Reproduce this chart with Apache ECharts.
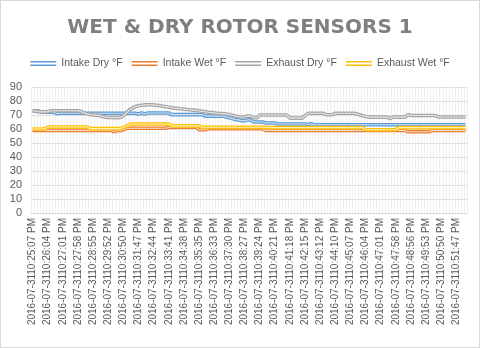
<!DOCTYPE html>
<html>
<head>
<meta charset="utf-8">
<script src="https://cdn.jsdelivr.net/npm/echarts@6/dist/echarts.min.js"></script>
<style>
html,body{margin:0;padding:0;background:#fff;}
#c{width:478px;height:346px;border:1px solid #d9d9d9;}
</style>
</head>
<body>
<div id="c"></div>
<script>
// Tick labels shown on the category axis (one every 5 samples)
const tickLabels = [
"2016-07-3110:25:07 PM","2016-07-3110:26:04 PM","2016-07-3110:27:01 PM","2016-07-3110:27:58 PM",
"2016-07-3110:28:55 PM","2016-07-3110:29:52 PM","2016-07-3110:30:50 PM","2016-07-3110:31:47 PM",
"2016-07-3110:32:44 PM","2016-07-3110:33:41 PM","2016-07-3110:34:38 PM","2016-07-3110:35:35 PM",
"2016-07-3110:36:33 PM","2016-07-3110:37:30 PM","2016-07-3110:38:27 PM","2016-07-3110:39:24 PM",
"2016-07-3110:40:21 PM","2016-07-3110:41:18 PM","2016-07-3110:42:15 PM","2016-07-3110:43:12 PM",
"2016-07-3110:44:10 PM","2016-07-3110:45:07 PM","2016-07-3110:46:04 PM","2016-07-3110:47:01 PM",
"2016-07-3110:47:58 PM","2016-07-3110:48:56 PM","2016-07-3110:49:53 PM","2016-07-3110:50:50 PM",
"2016-07-3110:51:47 PM"
];
const seriesNames = ["Intake Dry °F","Intake Wet °F","Exhaust Dry °F","Exhaust Wet °F"];
const seriesColors = ["#5B9BD5","#ED7D31","#A5A5A5","#FFC000"];

const intakeDry = [
73,72.9,72.8,72,72,72,72,72,71,71.2,
71.2,71.2,71.2,71.2,71.2,71.2,71.2,71.2,71.2,71.2,
71.2,71.2,71.2,71.2,71.2,71.2,71.2,71.2,71.2,71.2,
71.2,71.2,71.2,71.2,71.2,70.6,71.6,70.6,71.4,71.4,
71.4,71.4,71.4,71.4,71.4,71.4,70.3,70.3,70.3,70.3,
70.3,70.3,70.3,70.3,70.3,70.3,70.3,69.2,69.2,69.2,
69.2,69.2,69.2,69.2,68.6,68,67.4,66.8,66.5,66,
65.8,66.5,66.5,65,65,65,65,64.3,64.3,64.3,
64.3,63.6,63.6,63.6,63.6,63.6,63.6,63.6,63.6,63.6,
63.6,63.2,63.8,63,63,63,63,63,63,63,
63,63,63,63,63,63,63,63,63,63,
63,63,63,63,63,63,63,63,63,63,
63,63,63,63,63,63,63,63,63,63,
63,63,63,63,63,63,63,63,63,63,
63,63,63,63
];
const intakeWet = [
59,59,59,59,59,59,59,59,59,59,
59,59,59,59,59,59,59,59,59,59,
59,59,59,59,59,59,59,58,58.8,59,
59.5,60.5,60.5,60.5,60.5,60.5,60.5,60.5,60.5,60.5,
60.5,60.5,60.5,60.5,60.5,61.3,61.3,61.3,61.3,61.3,
61.3,61.3,61.3,61.3,61.3,59.5,59.5,59.5,60.2,60.2,
60.2,60.2,60.2,60.2,60.2,60.2,60.2,60.2,60.2,60.2,
60.2,60.2,60.2,60.2,60.2,60.2,60.2,59,59,59,
59,59,59,59,59,59,59,59,59,59,
59,59,59,59,59,59,59,59,59,59,
59,59,59,59,59,59,59,59,59,59,
59,59,59,59,59,59,59,59,59,59,
59,59,59,59,58,58,58,58,58,58,
58,58,59,59,59,59,59,59,59,59,
59,59,59,59
];
const exhaustDry = [
73,72.8,72.3,72.2,72.2,72.4,73,73,73,73,
73,73,73,73,73,73,72.5,71.5,70.8,70.3,
70,70,69.6,69,68.6,68.3,68.2,68.1,68.1,68.2,
69.5,71.5,73.5,75,76,76.6,77,77.2,77.3,77.3,
77.2,77,76.8,76.3,76,75.6,75.2,74.9,74.7,74.4,
74.2,73.9,73.7,73.5,73.3,73,72.6,72.3,72,71.8,
71.5,71.3,71.1,71,70.8,70.3,69.8,69.3,68.8,68.6,
68.8,69.2,69.2,68.2,67.9,70,70,70,70,70,
70,70,70,70,70,67.8,67.8,67.8,67.8,67.8,
69.5,71.2,71.2,71.2,71.2,71.2,71.2,70.2,70.2,70.2,
71.2,71.2,71.2,71.2,71.2,71.2,71.2,70.8,70.2,69.5,
69,68.5,68.5,68.5,68.5,68.5,68.5,68.5,67.5,68.5,
68.5,68.5,68.5,68.5,70.2,69.6,69.6,69.6,69.6,69.6,
69.6,69.6,69.6,69.6,68.6,68.6,68.6,68.6,68.6,68.6,
68.6,68.6,68.6,68.6
];
const exhaustWet = [
60,60,60,60,60,61.4,61.4,61.4,61.4,61.4,
61.4,61.4,61.4,61.4,61.4,61.4,61.4,61.4,61.4,60.3,
60.3,60.3,60.3,60.3,60.3,60.3,60.3,60.3,60.3,60.3,
61,62,63,63.6,63.6,63.6,63.6,63.6,63.6,63.6,
63.6,63.6,63.6,63.6,63.6,63.6,62.2,62.2,62.2,62.2,
62.2,62.2,62.2,62.2,62.2,62.2,61.3,61.3,61.3,61.3,
61.3,61.3,61.3,61.3,61.3,61.3,61.3,61.3,61.3,61.3,
61.3,61.3,61.3,61.3,61.3,61.3,61.3,61.3,61,61,
61,61,61,61,61,61,61,61,61,61,
61,61,61,61,61,61,61,61,61,61,
61,61,61,61,61,61,61,61,61,61,
59.5,59.5,59.5,59.5,59.5,59.5,59.5,59.5,59.5,59.5,
59.5,61,61,61,61,61,61,61,61,61,
61,61,61,61,61,61,61,61,61,61,
61,61,61,61
];
const seriesData = [intakeDry, intakeWet, exhaustDry, exhaustWet];

// category axis: one slot per sample
const categories = intakeDry.map((_, i) => String(i));

const series = [];
seriesData.forEach((d, k) => {
  series.push({
    name: seriesNames[k], type: 'line', data: d, symbol: 'none',
    lineStyle: { color: seriesColors[k], width: 3.6 },
    itemStyle: { color: seriesColors[k] }, z: 2 + k * 2
  });
  series.push({
    name: seriesNames[k] + ' inner', type: 'line', data: d, symbol: 'none', silent: true,
    lineStyle: { color: 'rgba(255,255,255,0.75)', width: 1.1 }, z: 3 + k * 2,
    tooltip: { show: false }
  });
});

const chart = echarts.init(document.getElementById('c'));
chart.setOption({
  animation: false,
  backgroundColor: '#ffffff',
  title: {
    text: 'WET & DRY ROTOR SENSORS 1', left: 'center', top: 12,
    textStyle: { fontFamily: 'DejaVu Sans', fontWeight: 'bold', fontSize: 20, color: '#7F7F7F' }
  },
  legend: {
    data: seriesNames, top: 52, left: 'center', itemGap: 9, itemWidth: 26, itemHeight: 5,
    icon: 'path://M0,0H26V1.6H0Z M0,3.4H26V5H0Z',
    textStyle: { fontFamily: 'Liberation Sans', fontSize: 10.5, color: '#595959' }
  },
  grid: { left: 30, right: 12, top: 86, bottom: 134, containLabel: false },
  xAxis: {
    type: 'category', data: categories, boundaryGap: true,
    axisLine: { lineStyle: { color: '#D9D9D9' } },
    axisTick: { show: false },
    splitLine: { show: true, interval: 0, lineStyle: { color: '#EFEFEF', width: 1 } },
    axisLabel: {
      interval: 4, rotate: 90, margin: 5,
      fontFamily: 'Liberation Sans', fontSize: 10, color: '#595959',
      formatter: (v, i) => tickLabels[Math.round(i / 5)] || ''
    }
  },
  yAxis: {
    type: 'value', min: 0, max: 90, interval: 10,
    axisLine: { show: false }, axisTick: { show: false },
    splitLine: { lineStyle: { color: '#D9D9D9' } },
    axisLabel: { fontFamily: 'Liberation Sans', fontSize: 11, color: '#595959', margin: 9 }
  },
  series: series
});
</script>
</body>
</html>
